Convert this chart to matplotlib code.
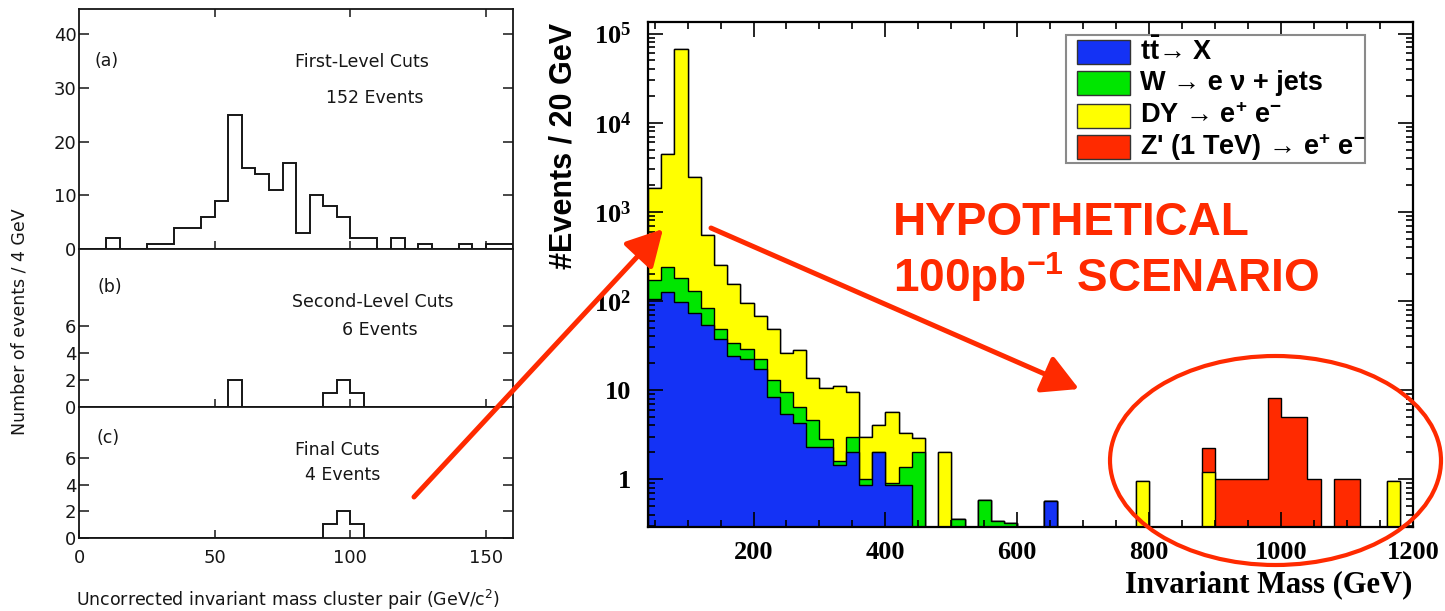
import numpy as np
import matplotlib
matplotlib.use("Agg")
import matplotlib.pyplot as plt
from matplotlib.patches import Rectangle, Ellipse, FancyArrowPatch
from matplotlib.ticker import MultipleLocator, LogLocator, NullFormatter
from matplotlib.transforms import IdentityTransform

plt.rcParams['mathtext.default'] = 'regular'

# ------------------------------------------------------------
# Left: old experiment, 5 GeV wide bins from 0 to 160
old_edges = np.arange(0, 161, 5)
cuts_first = [0, 0, 2, 0, 0, 1, 1, 4, 4, 6, 9, 25, 15, 14, 11, 16,
              3, 10, 8, 6, 2, 2, 0, 2, 0, 1, 0, 0, 1, 0, 1, 1]
cuts_second = [0, 0, 0, 0, 0, 0, 0, 0, 0, 0, 0, 2, 0, 0, 0, 0,
               0, 0, 1, 2, 1, 0, 0, 0, 0, 0, 0, 0, 0, 0, 0, 0]
cuts_final = [0, 0, 0, 0, 0, 0, 0, 0, 0, 0, 0, 0, 0, 0, 0, 0,
              0, 0, 1, 2, 1, 0, 0, 0, 0, 0, 0, 0, 0, 0, 0, 0]

# Right: simulated 100 pb^-1, 20 GeV bins from 40 to 1200
mass_edges = np.arange(40, 1201, 20)
ttbar = [105, 127, 96, 73, 54, 37, 24, 22, 17, 8.3,
         5.4, 4.3, 2.3, 2.3, 1.44, 2.0, 0.86, 2.0, 0.86, 0.86,
         0, 0, 0, 0, 0, 0, 0, 0, 0, 0,
         0.57, 0, 0, 0, 0, 0, 0, 0, 0, 0,
         0, 0, 0, 0, 0, 0, 0, 0, 0, 0,
         0, 0, 0, 0, 0, 0, 0, 0]
wjets = [67, 116, 84, 57, 29, 12, 10, 7, 5, 4.7,
         4.2, 2.1, 2.3, 0.5, 0.16, 1.0, 0.14, 0, 0.04, 0.49,
         2.0, 0, 0, 0.36, 0, 0.59, 0.34, 0.32, 0, 0,
         0, 0, 0, 0, 0, 0, 0, 0, 0, 0,
         0, 0, 0, 0, 0, 0, 0, 0, 0, 0,
         0, 0, 0, 0, 0, 0, 0, 0]
drell_yan = [1688, 4227, 67720, 2300, 470, 201, 119, 66, 46, 36,
             16.4, 21.6, 8.9, 7.6, 9.4, 6.6, 2.0, 2.0, 4.7, 1.95,
             0.9, 0, 2.0, 0, 0, 0, 0, 0, 0, 0,
             0, 0, 0, 0, 0, 0, 0, 0.95, 0, 0,
             0, 0, 1.2, 0, 0, 0, 0, 0, 0, 0,
             0, 0, 0, 0, 0, 0, 0.95, 0]
zprime = [0, 0, 0, 0, 0, 0, 0, 0, 0, 0,
          0, 0, 0, 0, 0, 0, 0, 0, 0, 0,
          0, 0, 0, 0, 0, 0, 0, 0, 0, 0,
          0, 0, 0, 0, 0, 0, 0, 0, 0, 0,
          0, 0, 1.05, 1.0, 1.0, 1.0, 1.0, 8.1, 5.0, 5.0,
          1.0, 0, 1.0, 1.0, 0, 0, 0, 0]

proc_labels = ['t$\\bar{t}$\u2192 X', 'W \u2192 e \u03bd + jets',
               'DY \u2192 e$^{+}$ e$^{-}$', "Z' (1 TeV) \u2192 e$^{+}$ e$^{-}$"]
proc_colors = ['#1432f5', '#00e600', '#ffff00', '#ff2a00']

W, H = 1445, 611
RED = '#ff2a00'
INK = '#161616'


def px(x, y):
    # pixel (from top-left) -> figure fraction
    return x / W, 1 - y / H


fig = plt.figure(figsize=(W / 100, H / 100), dpi=100)

# ------------------------------------------------------------
# --- LEFT PANELS
panels = [
    (cuts_first, (9, 249), 44.7, [0, 10, 20, 30, 40]),
    (cuts_second, (249, 406.7), 11.7, [0, 2, 4, 6]),
    (cuts_final, (406.7, 537.7), 9.9, [0, 2, 4, 6]),
]
for i, (counts, (top, bot), ymax, yt) in enumerate(panels):
    ax = fig.add_axes([79.3 / W, 1 - bot / H, (513 - 79.3) / W, (bot - top) / H])
    ax.stairs(counts, old_edges, color=INK, lw=1.4)
    ax.set_xlim(0, 160)
    ax.set_ylim(0, ymax)
    ax.set_yticks(yt)
    ax.set_xticks([50, 100, 150])
    ax.tick_params(direction='in', length=7.5, width=1.1, right=True,
                   top=(i == 0), labelsize=13, pad=2, colors=INK)
    ax.tick_params(axis='x', length=5.5, pad=8)
    if i < 2:
        ax.set_xticklabels([])
    else:
        ax.set_xticks([0, 50, 100, 150])
    for s in ax.spines.values():
        s.set_linewidth(1.3)
        s.set_color(INK)

txt_kw = dict(fontsize=12.5, color=INK, family='DejaVu Sans')
fig.text(*px(107, 61), '(a)', ha='center', va='center', **txt_kw)
fig.text(*px(362, 62), 'First-Level Cuts', ha='center', va='center', **txt_kw)
fig.text(*px(375, 98), '152 Events', ha='center', va='center', **txt_kw)
fig.text(*px(110, 287), '(b)', ha='center', va='center', **txt_kw)
fig.text(*px(373, 302), 'Second-Level Cuts', ha='center', va='center', **txt_kw)
fig.text(*px(380, 330), '6 Events', ha='center', va='center', **txt_kw)
fig.text(*px(108, 438), '(c)', ha='center', va='center', **txt_kw)
fig.text(*px(337, 450), 'Final Cuts', ha='center', va='center', **txt_kw)
fig.text(*px(343, 475), '4 Events', ha='center', va='center', **txt_kw)
fig.text(*px(20, 322), 'Number of events / 4 GeV', rotation=90,
         ha='center', va='center', **txt_kw)
fig.text(*px(288, 600), 'Uncorrected invariant mass cluster pair (GeV/c$^{2}$)',
         ha='center', va='center', **txt_kw)

# ------------------------------------------------------------
# --- RIGHT PANEL (stacked, log)
ax = fig.add_axes([648 / W, 1 - 527 / H, 765 / W, 505 / H])
ax.set_yscale('log')
stack = np.cumsum([ttbar, wjets, drell_yan, zprime], axis=0)
for layer, c in reversed(list(zip(stack, proc_colors))):
    ax.stairs(np.where(layer > 0, layer, 1e-3), mass_edges, baseline=1e-3,
              fill=True, facecolor=c, edgecolor='black', lw=1.0)
ax.set_xlim(40, 1200)
ax.set_ylim(0.29, 1.35e5)

ax.set_yticks([1, 10, 100, 1e3, 1e4, 1e5],
              ['1', '10', '10$^{2}$', '10$^{3}$', '10$^{4}$', '10$^{5}$'])
ax.yaxis.set_minor_locator(LogLocator(base=10, subs=np.arange(2, 10), numticks=20))
ax.yaxis.set_minor_formatter(NullFormatter())
ax.xaxis.set_major_locator(MultipleLocator(200))
ax.xaxis.set_minor_locator(MultipleLocator(50))
ax.tick_params(which='both', direction='in', top=True, right=True, width=1.2)
ax.tick_params(which='major', length=11)
ax.tick_params(which='minor', length=5)
ax.tick_params(axis='x', pad=10)
ax.tick_params(axis='y', pad=12)
for lab in ax.get_xticklabels() + ax.get_yticklabels():
    lab.set_fontfamily('Liberation Serif')
    lab.set_fontweight('bold')
    lab.set_fontsize(19)
for s in ax.spines.values():
    s.set_linewidth(1.6)

fig.text(*px(563, 146), '#Events / 20 GeV', rotation=90, ha='center', va='center',
         fontsize=22, fontweight='bold', family='Liberation Sans')
fig.text(*px(1412, 585), 'Invariant Mass (GeV)', ha='right', va='center',
         fontsize=22, fontweight='bold', family='Liberation Serif')

# --- LEGEND (drawn by hand to match the ROOT box)
lx0, ly0 = px(1066, 163)
lx1, ly1 = px(1365, 35)
fig.add_artist(Rectangle((lx0, ly0), lx1 - lx0, ly1 - ly0, transform=fig.transFigure,
                         facecolor='white', edgecolor='#8a8a8a', lw=1.5, zorder=5))
for k, (lab, c) in enumerate(zip(proc_labels, proc_colors)):
    yc = [52, 83, 116, 147][k]
    rx, ry = px(1077, yc + 11.5)
    fig.add_artist(Rectangle((rx, ry), 53 / W, 23 / H, transform=fig.transFigure,
                             facecolor=c, edgecolor='#333333', lw=1.0, zorder=6))
    fig.text(*px(1140, yc), lab, ha='left', va='center', fontsize=19.5,
             fontweight='bold', family=['Liberation Sans', 'DejaVu Sans'], zorder=7)

# --- RED ANNOTATIONS
arrow_kw = dict(transform=IdentityTransform(), color=RED, lw=3.6, shrinkA=0, shrinkB=0,
                arrowstyle='-|>,head_length=0.55,head_width=0.3', mutation_scale=40)
fig.add_artist(FancyArrowPatch((414, H - 497), (663, H - 229), **arrow_kw))
fig.add_artist(FancyArrowPatch((711, H - 228), (1079, H - 389), **arrow_kw))
fig.add_artist(Ellipse((1275.5, H - 460.5), 331, 209, transform=IdentityTransform(),
                       fill=False, edgecolor=RED, lw=3))
fig.text(*px(893, 235), 'HYPOTHETICAL', ha='left', va='baseline', fontsize=33,
         fontweight='bold', color=RED, family='Liberation Sans')
fig.text(*px(893, 292), '100pb$^{-1}$ SCENARIO', ha='left', va='baseline', fontsize=33,
         fontweight='bold', color=RED, family='Liberation Sans')

fig.savefig('out.png', dpi=100)
